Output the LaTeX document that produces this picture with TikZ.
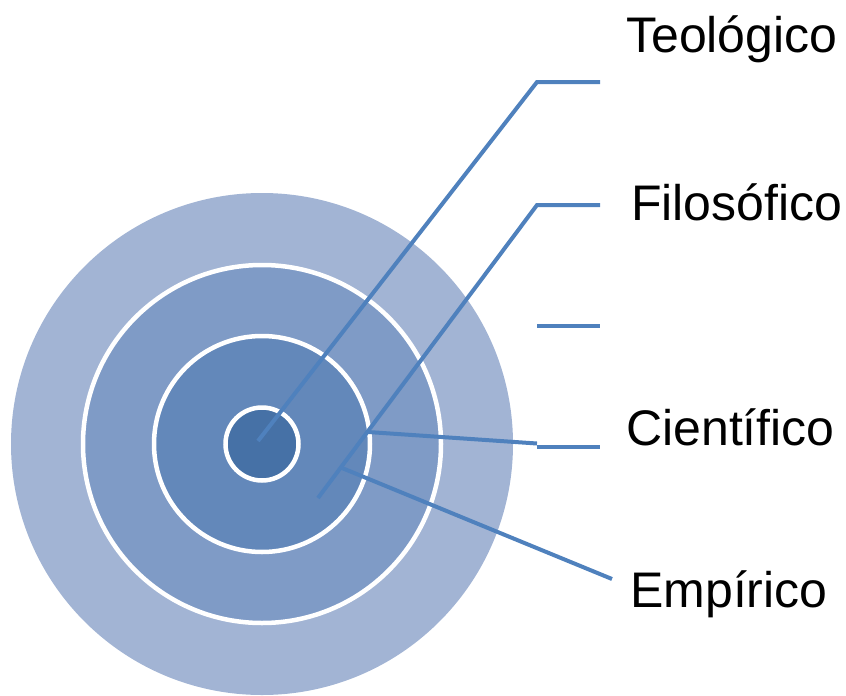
\documentclass[tikz,border=0pt]{standalone}
\usepackage{fontspec}
\setmainfont{Liberation Sans}
\definecolor{ringA}{HTML}{A2B4D4}
\definecolor{ringB}{HTML}{7F9BC6}
\definecolor{ringC}{HTML}{6388BA}
\definecolor{ringD}{HTML}{4671A6}
\definecolor{lineblue}{HTML}{4F81BD}
\begin{document}
\begin{tikzpicture}[x=1pt,y=-1pt,
  disc/.style={circle,inner sep=0pt,draw=white,line width=4.5pt},
  leader/.style={draw=lineblue,line width=4pt},
  lbl/.style={anchor=base west,inner sep=0pt,font=\fontsize{50}{60}\selectfont}]
\useasboundingbox (0,0) rectangle (846,696);
\node[circle,inner sep=0pt,fill=ringA,minimum size=502pt] (c1) at (262,444) {};
\node[disc,fill=ringB,minimum size=358pt] (c2) at (262,444) {};
\node[disc,fill=ringC,minimum size=216pt] (c3) at (262,444) {};
\node[disc,fill=ringD,minimum size=73pt] (c4) at (262,444) {};
\coordinate (s1) at (258,441);
\coordinate (b1) at (537,82);
\coordinate (e1) at (600,82);
\coordinate (s2) at (318,498);
\coordinate (b2) at (537,205);
\coordinate (e2) at (600,205);
\coordinate (b3) at (537,326);
\coordinate (e3) at (600,326);
\coordinate (s4) at (368,432);
\coordinate (b4) at (537,443.5);
\coordinate (h4) at (537,447);
\coordinate (e4) at (600,447);
\coordinate (s5) at (342,468);
\coordinate (e5) at (612,579);
\draw[leader] (s1) -- (b1) -- (e1);
\draw[leader] (s2) -- (b2) -- (e2);
\draw[leader] (b3) -- (e3);
\draw[leader] (s4) -- (b4);
\draw[leader] (h4) -- (e4);
\draw[leader] (s5) -- (e5);
\node[lbl] (t1) at (626,52) {Teológico};
\node[lbl] (t2) at (631,220) {Filosófico};
\node[lbl] (t3) at (626,445) {Científico};
\node[lbl] (t4) at (630,607) {Empírico};
\end{tikzpicture}
\end{document}
